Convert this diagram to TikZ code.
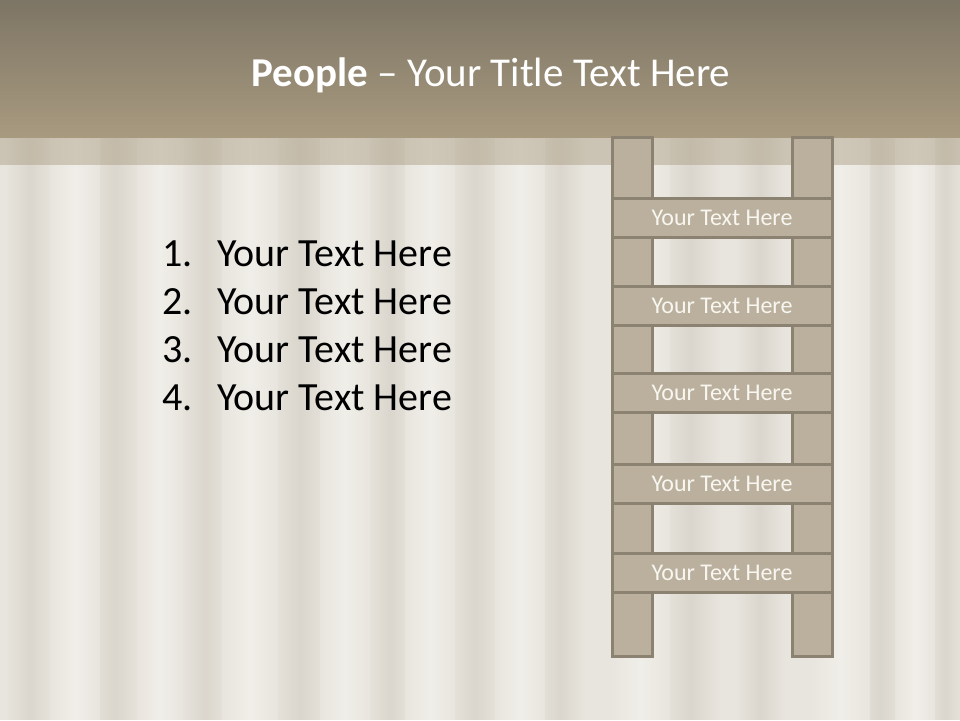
\documentclass[tikz,border=0pt]{standalone}
\usepackage{fontspec}
\setmainfont{Carlito}
\definecolor{bgbase}{HTML}{E8E5DE}
\definecolor{bgdark}{HTML}{DAD6CD}
\definecolor{bglight}{HTML}{F0EEE8}
\definecolor{bandtop}{HTML}{7D7565}
\definecolor{bandbot}{HTML}{A89A7F}
\definecolor{ladfill}{HTML}{BBB09D}
\definecolor{ladline}{HTML}{8B8271}
\definecolor{ladtext}{HTML}{F8F6F0}
\tikzset{
  stripe/.style={draw=none,left color=bgbase,right color=bgbase,middle color=bgdark},
  lstripe/.style={draw=none,left color=bgbase,right color=bgbase,middle color=bglight},
  rail/.style={draw=ladline,fill=ladfill,line width=3pt},
  rung/.style={draw=ladline,fill=ladfill,line width=3pt,minimum width=220pt,minimum height=39pt,inner sep=0pt,
    text=ladtext,font=\fontsize{24}{28}\selectfont},
  item/.style={anchor=base west,inner sep=0pt,font=\fontsize{40}{48}\selectfont,text=black},
}
\begin{document}
\begin{tikzpicture}[x=1pt,y=-1pt]
\useasboundingbox (0,0) rectangle (960,720);
% background
\fill[bgbase] (0,0) rectangle (960,720);
\begin{scope}
\clip (0,137) rectangle (960,719);
\foreach \c/\w in {30/50,115/55,205/50,300/60,390/50,475/55,560/50,690/60,760/50,880/55,945/40}{
  \shade[stripe] (\c-\w/2,130) rectangle (\c+\w/2,730);
}
\foreach \c/\w in {75/50,160/45,250/55,345/50,430/50,520/50,640/60,840/60,915/40}{
  \shade[lstripe] (\c-\w/2,130) rectangle (\c+\w/2,730);
}
\end{scope}
% title band
\shade[top color=bandtop,bottom color=bandbot] (0,0) rectangle (960,137);
\fill[bandbot,opacity=0.45] (0,137) rectangle (960,165);
\node[text=white,font=\fontsize{41}{49}\selectfont] (title) at (491,75) {\textbf{People} – Your Title Text Here};
% list
\foreach \n/\y in {1/266,2/314,3/362,4/410}{
  \node[item] (num\n) at (162,\y) {\n.};
  \node[item] (txt\n) at (217,\y) {Your Text Here};
}
% ladder
\draw[rail] (612,137) rectangle (652,656);
\draw[rail] (792,137) rectangle (832,656);
\node[rung] (r1) at (722,217.5) {Your Text Here};
\node[rung] (r2) at (722,305.5) {Your Text Here};
\node[rung] (r3) at (722,392.5) {Your Text Here};
\node[rung] (r4) at (722,483.5) {Your Text Here};
\node[rung] (r5) at (722,572.5) {Your Text Here};
\end{tikzpicture}
\end{document}
